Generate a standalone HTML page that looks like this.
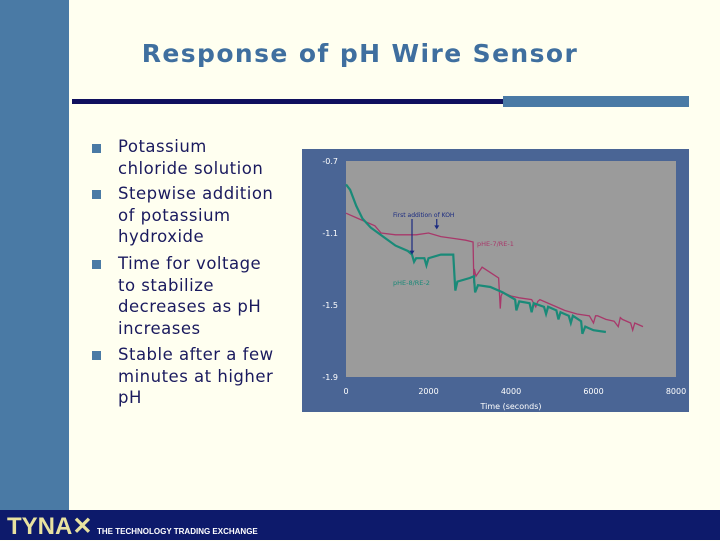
<!DOCTYPE html>
<html><head><meta charset="utf-8"><style>
body{margin:0;width:720px;height:540px;overflow:hidden;background:#fffff0;position:relative;font-family:"DejaVu Sans","Liberation Sans",sans-serif}
.abs{position:absolute}
.b{position:absolute;left:92px;width:9px;height:9px;background:#4a7aa5}
.t{position:absolute;left:118px;color:#1a1a5e;font-size:16.5px;line-height:21.5px;letter-spacing:0.5px}
</style></head><body>
<div class="abs" style="left:0;top:0;width:69px;height:510px;background:#4a7aa5"></div>
<div class="abs" style="left:60px;top:39px;width:600px;text-align:center;color:#3f6f9f;font-size:25px;font-weight:bold;letter-spacing:1.4px">Response of pH Wire Sensor</div>
<div class="abs" style="left:72px;top:99px;width:431px;height:5px;background:#10105e"></div>
<div class="abs" style="left:503px;top:96px;width:186px;height:11px;background:#4a7aa5"></div>
<div class="b" style="top:144px"></div>
<div class="t" style="top:136px">Potassium<br>chloride solution</div>
<div class="b" style="top:190px"></div>
<div class="t" style="top:183px">Stepwise addition<br>of potassium<br>hydroxide</div>
<div class="b" style="top:260px"></div>
<div class="t" style="top:253px">Time for voltage<br>to stabilize<br>decreases as pH<br>increases</div>
<div class="b" style="top:351px"></div>
<div class="t" style="top:344px">Stable after a few<br>minutes at higher<br>pH</div>
<svg class="abs" style="left:0;top:0" width="720" height="540" id="chart">
<rect x="302" y="149" width="387" height="263" fill="#4a6595"/>
<rect x="346" y="161" width="330" height="216" fill="#9b9b9b"/>
<g id="marks"></g>
</svg>
<div class="abs" style="left:0;top:510px;width:720px;height:30px;background:#0d1a6b"></div>
<div class="abs" style="left:7px;top:512px;color:#e8e2a0;font:bold 24px 'Liberation Sans',sans-serif;letter-spacing:0px">TYNA<span style="color:#e8e2a0">✕</span></div>
<div class="abs" style="left:97px;top:527px;color:#fff;font:bold 8px 'Liberation Sans',sans-serif">THE TECHNOLOGY TRADING EXCHANGE</div>
<script>
const xTicks=[0,2000,4000,6000,8000];
const yTicks=[-0.7,-1.1,-1.5,-1.9];
const redT=[0,300,700,850,1200,1700,2000,2300,2600,2900,3080,3100,3110,3150,3300,3500,3700,3740,3760,3800,4000,4200,4500,4600,4650,4700,5000,5300,5600,5900,6000,6050,6100,6300,6500,6600,6650,6700,6900,6950,7000,7200];
const redV=[-0.99,-1.02,-1.06,-1.10,-1.11,-1.11,-1.10,-1.12,-1.13,-1.14,-1.15,-1.38,-1.30,-1.34,-1.29,-1.32,-1.35,-1.52,-1.45,-1.43,-1.45,-1.46,-1.47,-1.51,-1.48,-1.47,-1.50,-1.53,-1.55,-1.56,-1.60,-1.56,-1.56,-1.58,-1.59,-1.62,-1.57,-1.58,-1.60,-1.64,-1.60,-1.62];
const grnT=[0,100,250,400,600,900,1200,1500,1600,1650,1700,1900,1950,2000,2300,2600,2650,2700,3000,3100,3130,3200,3500,3800,4100,4130,4200,4450,4500,4550,4800,4850,4900,5100,5150,5200,5400,5450,5500,5700,5730,5800,6000,6300];
const grnV=[-0.83,-0.86,-0.95,-1.02,-1.07,-1.12,-1.17,-1.20,-1.22,-1.26,-1.24,-1.24,-1.28,-1.24,-1.22,-1.22,-1.42,-1.37,-1.35,-1.34,-1.43,-1.39,-1.40,-1.43,-1.47,-1.53,-1.48,-1.49,-1.54,-1.49,-1.51,-1.55,-1.51,-1.53,-1.58,-1.54,-1.56,-1.60,-1.56,-1.59,-1.66,-1.62,-1.64,-1.65];
const X=v=>346+(v-0)/8000*330, Y=v=>161+(-0.7-v)/1.2*216;
const svg=document.getElementById('chart'),g=document.getElementById('marks'),NS='http://www.w3.org/2000/svg';
function mk(tag,attrs,parent){const e=document.createElementNS(NS,tag);for(const k in attrs)e.setAttribute(k,attrs[k]);(parent||g).appendChild(e);return e;}
xTicks.forEach(t=>{const e=mk('text',{x:X(t),y:394,'text-anchor':'middle','font-size':'8','fill':'#fff','font-family':'DejaVu Sans,sans-serif'});e.textContent=t;

});
yTicks.forEach(t=>{const e=mk('text',{x:338,y:Y(t)+3,'text-anchor':'end','font-size':'8','fill':'#fff','font-family':'DejaVu Sans,sans-serif'});e.textContent=t.toFixed(1);

});
const xt=mk('text',{x:511,y:409,'text-anchor':'middle','font-size':'8','fill':'#fff','font-family':'DejaVu Sans,sans-serif'});xt.textContent='Time (seconds)';


const pr=mk('polyline',{points:redT.map((t,i)=>X(t)+','+Y(redV[i])).join(' '),fill:'none',stroke:'#a8386a','stroke-width':'1.3'});


const pg=mk('polyline',{points:grnT.map((t,i)=>X(t)+','+Y(grnV[i])).join(' '),fill:'none',stroke:'#1a8a78','stroke-width':'2.2'});


const l1=mk('text',{x:477,y:246,'font-size':'6.5','fill':'#a8386a','font-family':'DejaVu Sans,sans-serif'});l1.textContent='pHE-7/RE-1';


const l2=mk('text',{x:393,y:285,'font-size':'6.5','fill':'#1a8a78','font-family':'DejaVu Sans,sans-serif'});l2.textContent='pHE-8/RE-2';


const an=mk('text',{x:393,y:217,'font-size':'6','fill':'#1a2a80','font-family':'DejaVu Sans,sans-serif'});an.textContent='First addition of KOH';


[[1600,-1.22,219],[2200,-1.08,219]].forEach(a=>{const l=mk('line',{x1:X(a[0]),y1:a[2],x2:X(a[0]),y2:Y(a[1])-3,stroke:'#1a2a80','stroke-width':'1.2'});


const p=mk('polygon',{points:`${X(a[0])-2.5},${Y(a[1])-4} ${X(a[0])+2.5},${Y(a[1])-4} ${X(a[0])},${Y(a[1])}`,fill:'#1a2a80'});

});
</script>
</body></html>
